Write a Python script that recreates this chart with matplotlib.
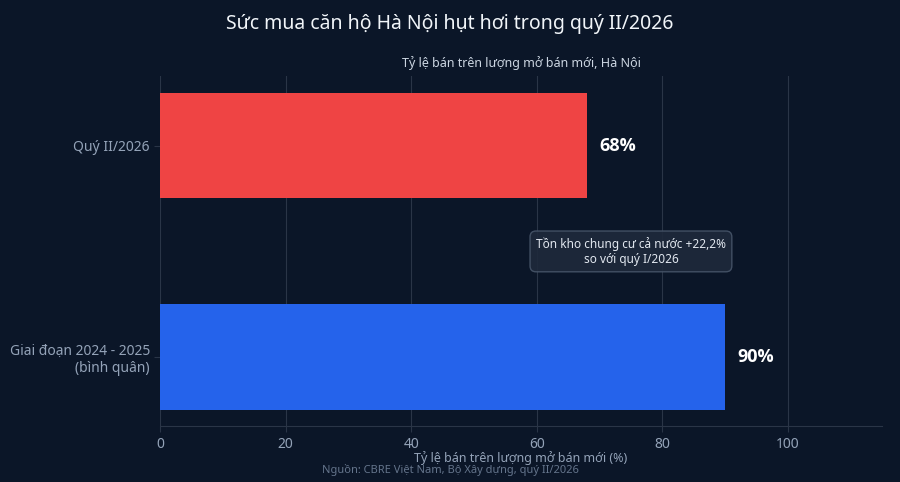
import matplotlib
matplotlib.use('Agg')
import matplotlib.pyplot as plt

plt.rcParams['font.family'] = ['Noto Sans', 'DejaVu Sans']

# data
categories = ['Giai đoạn 2024 - 2025\n(bình quân)', 'Quý II/2026']
values = [90, 68]
bar_colors = ['#2563eb', '#ef4444']
value_labels = ['90%', '68%']

bg = '#0b1628'
grid_c = '#2a3547'
tick_c = '#94a3b8'

fig, ax = plt.subplots(figsize=(9, 4.82), dpi=100)
fig.patch.set_facecolor(bg)
ax.set_facecolor(bg)
fig.subplots_adjust(left=0.178, right=0.98, top=0.843, bottom=0.116)

ypos = list(range(len(categories)))
ax.barh(ypos, values, height=0.5, color=bar_colors, zorder=3)

for y, v, lab in zip(ypos, values, value_labels):
    ax.text(v + 2, y, lab, color='white', fontsize=13, fontweight='bold',
            family=['Open Sans', 'DejaVu Sans'],
            va='center', ha='left', zorder=4)

ax.set_xlim(0, 115)
ax.set_ylim(-0.325, 1.33)
ax.set_xticks([0, 20, 40, 60, 80, 100])
ax.set_yticks(ypos)
ax.set_yticklabels(categories)
ax.tick_params(axis='x', colors=tick_c, labelsize=10, length=4, color=grid_c)
ax.tick_params(axis='y', colors=tick_c, labelsize=10, length=4, color=grid_c)

ax.grid(axis='x', color=grid_c, linewidth=0.8, zorder=0)
for s in ['top', 'right', 'left']:
    ax.spines[s].set_visible(False)
ax.spines['bottom'].set_color(grid_c)

ax.set_xlabel('Tỷ lệ bán trên lượng mở bán mới (%)', color=tick_c, fontsize=9, labelpad=0)
ax.set_title('Tỷ lệ bán trên lượng mở bán mới, Hà Nội', color='#cbd5e1', fontsize=9, pad=6)

fig.suptitle('Sức mua căn hộ Hà Nội hụt hơi trong quý II/2026', color='#f1f5f9',
             fontsize=14, y=0.97)

ax.text(75, 0.5, 'Tồn kho chung cư cả nước +22,2%\nso với quý I/2026',
        color='#e2e8f0', fontsize=8.5, ha='center', va='center', zorder=5,
        bbox=dict(boxstyle='round,pad=0.5', facecolor='#1e293b', edgecolor='#475569',
                  alpha=0.9))

fig.text(0.5, 0.018, 'Nguồn: CBRE Việt Nam, Bộ Xây dựng, quý II/2026',
         color='#64748b', fontsize=8, ha='center')

fig.savefig('out.png', dpi=100, facecolor=bg)
